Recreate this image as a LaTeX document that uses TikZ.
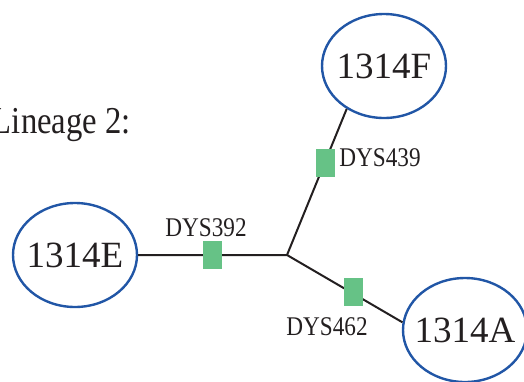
\documentclass[tikz,border=0pt]{standalone}
\usepackage{fontspec}
\setmainfont{Liberation Serif}
\newfontfamily\narrowfont[FakeStretch=0.86]{Liberation Serif}
\usetikzlibrary{shapes.geometric, positioning}
\definecolor{hapblue}{RGB}{33,86,166}
\definecolor{markgreen}{RGB}{102,194,134}
\definecolor{inkblack}{RGB}{35,31,32}

\begin{document}
\begin{tikzpicture}[x=1pt, y=-1pt,
        haplo/.style={ellipse, draw=hapblue, line width=2.4pt, minimum width=124pt, minimum height=104pt, inner xsep=-8pt, inner ysep=0pt, text=inkblack, font=\fontsize{37}{40}\selectfont},
        marker/.style={rectangle, fill=markgreen, minimum width=19pt, minimum height=28pt, inner sep=0pt},
        locus/.style={text=inkblack, inner sep=0pt, font=\narrowfont\fontsize{27}{30}\selectfont},
        branch/.style={draw=inkblack, line width=2pt}]
        \clip (0,0) rectangle (524,381);
        \useasboundingbox (0,0) rectangle (524,381);

        \node[haplo] (h1314F) at (384,66)  {1314F};
        \node[haplo] (h1314E) at (75,255)  {1314E};
        \node[haplo] (h1314A) at (465,330) {1314A};
        \coordinate (hub) at (287,255);

        \node[anchor=base east, text=inkblack, inner sep=0pt, font=\narrowfont\fontsize{38}{40}\selectfont] (lineage) at (131,133) {Lineage 2:};

        \path[branch] (h1314E.east) -- (hub)
                      (hub) -- (h1314F.229)
                      (hub) -- (h1314A.173);

        \node[marker] (m392) at (212,255) {};
        \node[marker] (m439) at (325,163) {};
        \node[marker] (m462) at (353,292) {};

        \node[locus] (l392) at (206,228) {DYS392};
        \node[locus] (l439) at (380,158) {DYS439};
        \node[locus] (l462) at (327,327) {DYS462};
    \end{tikzpicture}
\end{document}
